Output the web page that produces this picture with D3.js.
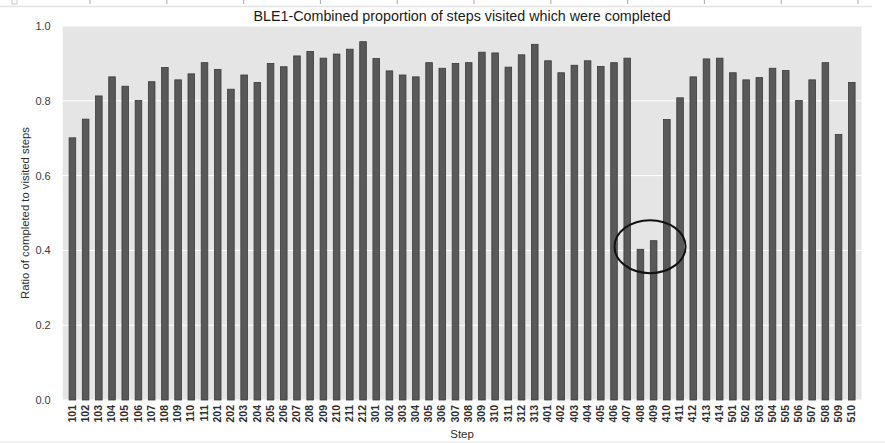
<!DOCTYPE html>
<html>
<head>
<meta charset="utf-8">
<script src="https://cdn.jsdelivr.net/npm/d3@7/dist/d3.min.js"></script>
<style>
  html, body { margin: 0; padding: 0; background: #ffffff; }
  svg { display: block; font-family: "Liberation Sans", Arial, sans-serif; }
</style>
</head>
<body>
<svg id="chart" width="885" height="443"></svg>
<script>
// Step identifiers, in plotting order
const steps = [
  "101","102","103","104","105","106","107","108","109","110","111",
  "201","202","203","204","205","206","207","208","209","210","211","212",
  "301","302","303","304","305","306","307","308","309","310","311","312","313",
  "401","402","403","404","405","406","407","408","409","410","411","412","413","414",
  "501","502","503","504","505","506","507","508","509","510"
];

// Ratio of completed to visited steps for each step
const ratios = [
  0.701, 0.751, 0.813, 0.864, 0.839, 0.801, 0.851, 0.889, 0.856, 0.872, 0.902,
  0.884, 0.831, 0.869, 0.849, 0.900, 0.891, 0.920, 0.932, 0.914, 0.925, 0.938, 0.958,
  0.913, 0.880, 0.869, 0.864, 0.902, 0.887, 0.900, 0.902, 0.930, 0.928, 0.890, 0.923, 0.951,
  0.907, 0.875, 0.895, 0.907, 0.892, 0.902, 0.914, 0.403, 0.426, 0.750, 0.808, 0.864, 0.912, 0.914,
  0.875, 0.856, 0.862, 0.887, 0.881, 0.801, 0.856, 0.902, 0.710, 0.849
];

const yTicks = [0.0, 0.2, 0.4, 0.6, 0.8, 1.0];

// Steps singled out by the hand-drawn ring
const flagged = ["408", "409"];
const flaggedLevel = 0.41;

const titleText = "BLE1-Combined proportion of steps visited which were completed";
const xLabelText = "Step";
const yLabelText = "Ratio of completed to visited steps";

const data = steps.map((s, i) => ({ step: s, value: ratios[i] }));

const svg = d3.select("#chart");
const W = 885, H = 443;
const plot = { left: 62.7, right: 861.5, top: 26, bottom: 400 };

// faint strip left over along the top edge
svg.append("line")
  .attr("x1", 0).attr("x2", 872).attr("y1", 6.5).attr("y2", 6.5)
  .attr("stroke", "#e2e2e2").attr("stroke-width", 1.5);
svg.selectAll("line.strip-tick")
  .data(d3.range(11))
  .join("line")
  .attr("class", "strip-tick")
  .attr("x1", i => 90 + i * 76.8).attr("x2", i => 90 + i * 76.8)
  .attr("y1", 0).attr("y2", 4)
  .attr("stroke", "#a8a8a8").attr("stroke-width", 1);
svg.append("rect")
  .attr("x", 12).attr("y", -1).attr("width", 5).attr("height", 5)
  .attr("fill", "none").attr("stroke", "#bbb").attr("stroke-width", 0.8);
svg.append("rect")
  .attr("x", 0).attr("y", 441).attr("width", W).attr("height", 2)
  .attr("fill", "#f3f3f3");

const x = d3.scaleBand()
  .domain(steps)
  .range([plot.left, plot.right])
  .paddingInner(0.5)
  .paddingOuter(0.485);

const y = d3.scaleLinear()
  .domain([0, 1])
  .range([plot.bottom, plot.top]);

// panel background
svg.append("rect")
  .attr("x", plot.left).attr("y", plot.top)
  .attr("width", plot.right - plot.left).attr("height", plot.bottom - plot.top)
  .attr("fill", "#e5e5e5");

// horizontal grid
svg.append("g")
  .selectAll("line")
  .data(yTicks)
  .join("line")
  .attr("x1", plot.left).attr("x2", plot.right)
  .attr("y1", d => y(d)).attr("y2", d => y(d))
  .attr("stroke", "#ffffff").attr("stroke-width", 1);

// bars
svg.append("g")
  .selectAll("rect")
  .data(data)
  .join("rect")
  .attr("x", d => x(d.step))
  .attr("width", x.bandwidth())
  .attr("y", d => y(d.value))
  .attr("height", d => y(0) - y(d.value))
  .attr("fill", "#595959")
  .attr("stroke", "#3a3a3a")
  .attr("stroke-width", 0.8);

// y axis
const yAxis = d3.axisLeft(y)
  .tickValues(yTicks)
  .tickFormat(d3.format(".1f"))
  .tickSize(0)
  .tickPadding(12);
const gy = svg.append("g")
  .attr("transform", `translate(${plot.left},0)`)
  .call(yAxis);
gy.select(".domain").remove();
gy.selectAll("text")
  .attr("font-size", 11)
  .attr("fill", "#3c3c3c");

// x axis with vertical step labels
const xAxis = d3.axisBottom(x).tickSize(0).tickPadding(0);
const gx = svg.append("g")
  .attr("transform", `translate(0,${plot.bottom})`)
  .call(xAxis);
gx.select(".domain").remove();
gx.selectAll("text")
  .attr("font-size", 10.5)
  .attr("font-weight", "bold")
  .attr("fill", "#2e2e2e")
  .attr("text-anchor", "end")
  .attr("dy", "0.35em")
  .attr("transform", "translate(-0.5,5) rotate(-90)")
  .attr("x", 0).attr("y", 0);

// titles
svg.append("text")
  .attr("x", (plot.left + plot.right) / 2)
  .attr("y", 21)
  .attr("text-anchor", "middle")
  .attr("font-size", 14.3)
  .attr("fill", "#1a1a1a")
  .text(titleText);

svg.append("text")
  .attr("x", (plot.left + plot.right) / 2)
  .attr("y", 438)
  .attr("text-anchor", "middle")
  .attr("font-size", 11.5)
  .attr("fill", "#2a2a2a")
  .text(xLabelText);

svg.append("text")
  .attr("transform", `translate(29,${(plot.top + plot.bottom) / 2}) rotate(-90)`)
  .attr("text-anchor", "middle")
  .attr("font-size", 11.3)
  .attr("fill", "#2a2a2a")
  .text(yLabelText);

// ring around the two low steps
const ringCx = (x(flagged[0]) + x(flagged[1]) + x.bandwidth()) / 2 + 3;
svg.append("ellipse")
  .attr("cx", ringCx)
  .attr("cy", y(flaggedLevel))
  .attr("rx", 35.5)
  .attr("ry", 26.5)
  .attr("fill", "none")
  .attr("stroke", "#111")
  .attr("stroke-width", 2);
</script>
</body>
</html>
